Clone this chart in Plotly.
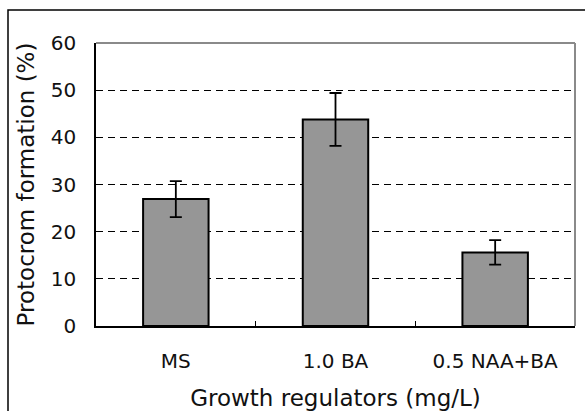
import plotly.graph_objects as go

categories = ["MS", "1.0 BA", "0.5 NAA+BA"]
values = [26.9, 43.8, 15.6]
errors = [3.8, 5.6, 2.6]
y_ticks = [0, 10, 20, 30, 40, 50, 60]

FONT = "DejaVu Sans"

fig = go.Figure()
fig.add_trace(go.Bar(
    x=categories, y=values,
    marker=dict(color="#969696", line=dict(color="black", width=2)),
    error_y=dict(type="data", array=errors, visible=True, color="black", thickness=1.8, width=6),
    width=0.41,
))

fig.update_layout(
    width=585, height=411,
    margin=dict(l=96, r=10, t=43, b=85),
    paper_bgcolor="white", plot_bgcolor="white",
    showlegend=False,
    font=dict(family=FONT, color="black"),
    xaxis=dict(
        automargin=False,
        showline=True, linecolor="black", linewidth=1.5,
        ticks="inside", tickson="boundaries", ticklen=5, tickcolor="black", tickwidth=1,
        tickfont=dict(size=20, family=FONT, color="#111"),
        ticklabelstandoff=16,
        title=dict(text="Growth regulators (mg/L)", font=dict(size=23, family=FONT, color="#111"), standoff=21),
        showgrid=False,
    ),
    yaxis=dict(
        automargin=False,
        range=[0, 60], tickvals=y_ticks,
        showline=True, linecolor="black", linewidth=1.5,
        ticks="inside", ticklen=4, tickcolor="black",
        tickfont=dict(size=20, family=FONT, color="#111"),
        ticklabelstandoff=14,
        showgrid=True, gridcolor="black", gridwidth=1, griddash="7px,5px",
        zeroline=False,
        title=dict(text="Protocrom formation (%)", font=dict(size=23, family=FONT, color="#111"), standoff=10),
    ),
    shapes=[
        dict(type="line", xref="paper", yref="paper", x0=0, x1=1, y0=1, y1=1,
             line=dict(color="#8a8a8a", width=2)),
        dict(type="line", xref="paper", yref="paper", x0=1, x1=1, y0=0, y1=1,
             line=dict(color="#8a8a8a", width=2)),
        dict(type="rect", xref="paper", yref="paper",
             x0=(8 - 96) / 479, x1=(600 - 96) / 479,
             y0=(326 - 430) / 283, y1=(326 - 10) / 283,
             line=dict(color="black", width=1.5), layer="below"),
    ],
)

fig.write_html("out.html", config={"displayModeBar": False},
               post_script="document.body.style.margin='0';document.body.style.overflow='hidden';")
